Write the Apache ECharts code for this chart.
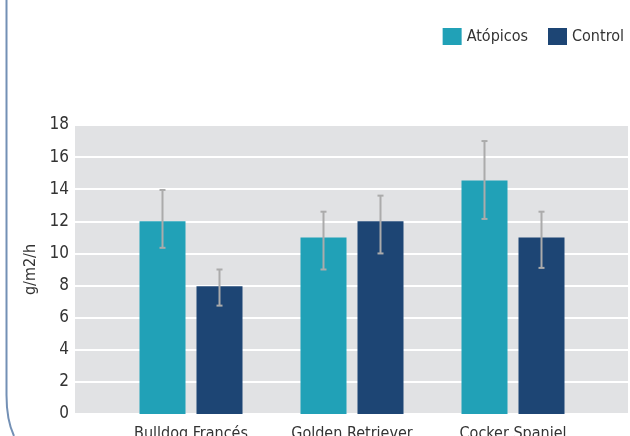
<!DOCTYPE html>
<html>
<head>
<meta charset="utf-8">
<script src="https://cdn.jsdelivr.net/npm/echarts@6/dist/echarts.min.js"></script>
<style>html,body{margin:0;padding:0;background:#fff}#c{width:630px;height:436px}</style>
</head>
<body>
<div id="c"></div>
<script>
const categories = ['Bulldog Francés', 'Golden Retriever', 'Cocker Spaniel'];
const seriesNames = ['Atópicos', 'Control'];
const atopicos = [12.0, 11.0, 14.55];
const control = [7.95, 12.0, 11.0];
const atopicosErrLow = [10.35, 9.0, 12.15];
const atopicosErrHigh = [13.95, 12.6, 17.0];
const controlErrLow = [6.75, 10.0, 9.1];
const controlErrHigh = [9.0, 13.6, 12.6];
const yTicks = [0, 2, 4, 6, 8, 10, 12, 14, 16, 18];

const FONT = '"Liberation Sans Narrow", "DejaVu Sans Condensed", "Roboto", sans-serif';
const BAR_W = 46, GAP = 11;
const colors = ['#21a1b7', '#1d4574'];

function errSeries(idx, lows, highs) {
  const data = lows.map((l, i) => [i, l, highs[i]]);
  return {
    type: 'custom', xAxisIndex: 1, yAxisIndex: 1, z: 5,
    data: data,
    renderItem: function (params, api) {
      const c = api.value(0);
      const lo = api.coord([c, api.value(1)]);
      const hi = api.coord([c, api.value(2)]);
      const off = (idx === 0 ? -1 : 1) * (BAR_W + GAP) / 2;
      const x = lo[0] + off;
      const cap = 3;
      const st = { stroke: '#ababab', lineWidth: 2 };
      return {
        type: 'group',
        children: [
          { type: 'line', shape: { x1: x, y1: lo[1], x2: x, y2: hi[1] }, style: st },
          { type: 'line', shape: { x1: x - cap, y1: lo[1], x2: x + cap, y2: lo[1] }, style: st },
          { type: 'line', shape: { x1: x - cap, y1: hi[1], x2: x + cap, y2: hi[1] }, style: st }
        ]
      };
    }
  };
}

const chart = echarts.init(document.getElementById('c'), null, { renderer: 'canvas' });
chart.setOption({
  animation: false,
  textStyle: { fontFamily: FONT },
  graphic: [
    { type: 'line', shape: { x1: 6.5, y1: 0, x2: 6.5, y2: 395 },
      style: { stroke: '#7390b5', lineWidth: 2 } },
    { type: 'bezierCurve', shape: { x1: 6.5, y1: 395, cpx1: 6.5, cpy1: 420, x2: 14, y2: 436 },
      style: { stroke: '#7390b5', lineWidth: 2, fill: 'none' } }
  ],
  legend: {
    data: seriesNames,
    right: 1, top: 23,
    icon: 'rect', itemWidth: 19, itemHeight: 17, itemGap: 20,
    textStyle: { fontFamily: FONT, fontSize: 16, color: '#333' }
  },
  grid: [
    { left: 75, right: 2, top: 125, bottom: 22, show: true, backgroundColor: '#e1e2e4', borderWidth: 0,
      containLabel: false, outerBoundsMode: 'none' },
    { left: 110.5, width: 483, top: 125, bottom: 22, containLabel: false, outerBoundsMode: 'none' }
  ],
  xAxis: [
    { type: 'category', gridIndex: 0, data: categories, show: false },
    {
      type: 'category', gridIndex: 1, data: categories,
      axisLine: { show: false }, axisTick: { show: false },
      axisLabel: { margin: 12, fontSize: 16, color: '#333', fontFamily: FONT }
    }
  ],
  yAxis: [
    {
      type: 'value', gridIndex: 0, min: 0, max: 18, interval: 2,
      name: 'g/m2/h', nameLocation: 'middle', nameGap: 36, nameRotate: 90,
      nameTextStyle: { fontSize: 16, color: '#333', fontFamily: FONT },
      axisLine: { show: false }, axisTick: { show: false },
      axisLabel: { margin: 6, fontSize: 17, color: '#333', fontFamily: FONT,
        formatter: v => yTicks.includes(v) ? String(v) : '' },
      splitLine: { show: true, lineStyle: { color: '#ffffff', width: 2 } }
    },
    { type: 'value', gridIndex: 1, min: 0, max: 18, interval: 2, show: false, splitLine: { show: false } }
  ],
  series: [
    { name: seriesNames[0], type: 'bar', xAxisIndex: 1, yAxisIndex: 1, data: atopicos,
      barWidth: BAR_W, barGap: (GAP / BAR_W * 100) + '%', itemStyle: { color: colors[0] } },
    { name: seriesNames[1], type: 'bar', xAxisIndex: 1, yAxisIndex: 1, data: control,
      barWidth: BAR_W, barGap: (GAP / BAR_W * 100) + '%', itemStyle: { color: colors[1] } },
    errSeries(0, atopicosErrLow, atopicosErrHigh),
    errSeries(1, controlErrLow, controlErrHigh)
  ]
});
</script>
</body>
</html>
